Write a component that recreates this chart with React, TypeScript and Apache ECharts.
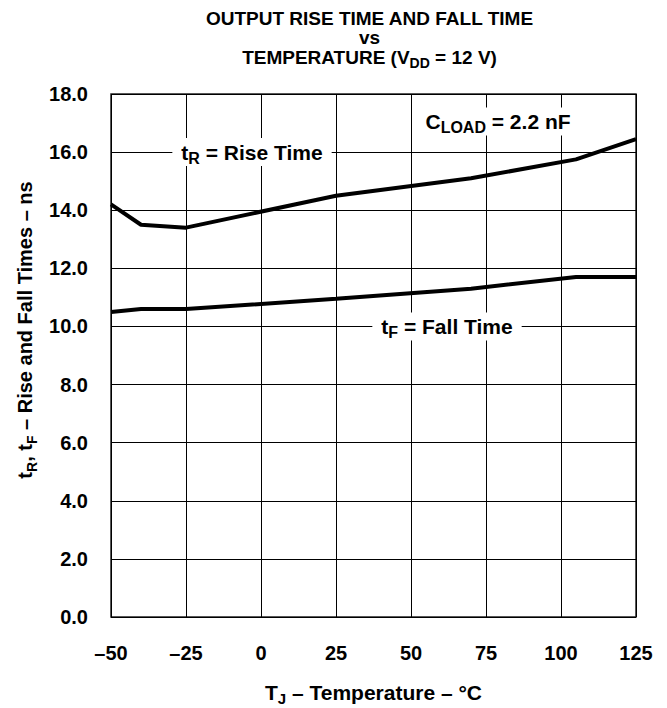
import React, { useEffect, useRef } from "react";
import * as echarts from "echarts";

const temperatures = [-50, -40, -25, 25, 70, 105, 125];
const riseTime = [14.2, 13.5, 13.4, 14.5, 15.1, 15.75, 16.45];
const fallTime = [10.5, 10.6, 10.6, 10.95, 11.3, 11.7, 11.7];
const xTicks = { min: -50, max: 125, interval: 25 };
const yTicks = { min: 0, max: 18, interval: 2 };
const titleLines = ["OUTPUT RISE TIME AND FALL TIME", "vs", "TEMPERATURE (V{sub|DD} = 12 V)"];
const annotations = [
  { text: "t{sub|R} = Rise Time", at: [-3, 16.0] },
  { text: "C{sub|LOAD} = 2.2 nF", at: [79, 17.05] },
  { text: "t{sub|F} = Fall Time", at: [62, 10.0] },
];
const xName = "T{sub|J} – Temperature – °C";
const yName = "t{sub|R}, t{sub|F} – Rise and Fall Times – ns";

const FONT = "'Liberation Sans', Arial, Helvetica, sans-serif";

function makeRich(size: number) {
  return {
    sub: {
      fontSize: size,
      fontWeight: "bold",
      fontFamily: FONT,
      fill: "#000",
      color: "#000",
      verticalAlign: "bottom",
      lineHeight: size,
    },
  };
}

function textEl(text: string, x: number, y: number, fs: number, extra: any = {}) {
  const subSize = Math.round(fs * (extra.subRatio || 0.72));
  return {
    type: "text",
    x,
    y,
    rotation: extra.rotation || 0,
    z: 100,
    style: {
      text,
      rich: makeRich(subSize),
      fontSize: fs,
      fontWeight: "bold",
      fontFamily: FONT,
      fill: "#000",
      lineHeight: extra.lineHeight || Math.round(fs * 1.35),
      align: "center",
      verticalAlign: "middle",
      textAlign: "center",
      textVerticalAlign: "middle",
      ...(extra.style || {}),
    },
  };
}

export default function App() {
  const ref = useRef<HTMLDivElement>(null);
  useEffect(() => {
    document.body.style.margin = "0";
    if (!ref.current) return;
    const chart = echarts.init(ref.current, undefined, { renderer: "svg" });
    const gridLeft = 111, gridRight = 31, gridTop = 94, gridBottom = 91;
    const option: any = {
      animation: false,
      backgroundColor: "#fff",
      grid: {
        left: gridLeft,
        right: gridRight,
        top: gridTop,
        bottom: gridBottom,
        show: true,
        borderColor: "#222",
        borderWidth: 1.5,
        containLabel: false,
      },
      xAxis: {
        type: "value",
        min: xTicks.min,
        max: xTicks.max,
        interval: xTicks.interval,
        axisLine: { show: false },
        axisTick: { show: false },
        splitLine: { show: true, lineStyle: { color: "#000", width: 1 } },
        axisLabel: {
          margin: 26,
          fontSize: 20,
          fontWeight: "bold",
          fontFamily: FONT,
          color: "#000",
          formatter: (v: number) => (v < 0 ? "–" + Math.abs(v) : String(v)),
        },
      },
      yAxis: {
        type: "value",
        min: yTicks.min,
        max: yTicks.max,
        interval: yTicks.interval,
        axisLine: { show: false },
        axisTick: { show: false },
        splitLine: { show: true, lineStyle: { color: "#000", width: 1 } },
        axisLabel: {
          margin: 23,
          fontSize: 20,
          fontWeight: "bold",
          fontFamily: FONT,
          color: "#000",
          formatter: (v: number) => v.toFixed(1),
        },
      },
      series: [
        {
          type: "line",
          name: "Rise",
          data: temperatures.map((t, i) => [t, riseTime[i]]),
          symbol: "none",
          lineStyle: { color: "#000", width: 4 },
          z: 5,
        },
        {
          type: "line",
          name: "Fall",
          data: temperatures.map((t, i) => [t, fallTime[i]]),
          symbol: "none",
          lineStyle: { color: "#000", width: 4 },
          z: 5,
        },
      ],
    };
    chart.setOption(option);

    const cx = gridLeft + (667 - gridLeft - gridRight) / 2;
    const elements: any[] = [];
    const titleY = [18, 37, 57];
    const titleLH = [17, 14, 26];
    titleLines.forEach((t, i) =>
      elements.push(textEl(t, cx - 4, titleY[i], 19, { lineHeight: titleLH[i], subRatio: 0.75 }))
    );
    annotations.forEach((a) => {
      const p = chart.convertToPixel({ gridIndex: 0 }, a.at) as number[];
      elements.push(
        textEl(a.text, p[0], p[1], 21, {
          subRatio: 0.76,
          style: { backgroundColor: "#fff", padding: [0, 9, 0, 9] },
        })
      );
    });
    elements.push(textEl(xName, cx, 692, 21));
    elements.push(textEl(yName, 25, 330, 20, { rotation: Math.PI / 2 }));
    chart.setOption({ graphic: { elements } });

    return () => chart.dispose();
  }, []);
  return <div ref={ref} style={{ width: 667, height: 708 }} />;
}
